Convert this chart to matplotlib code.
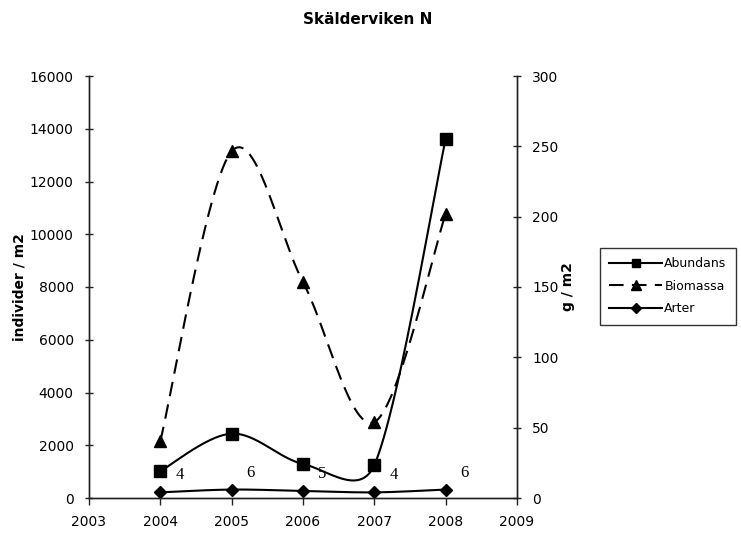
import numpy as np
import matplotlib
matplotlib.use("Agg")
import matplotlib.pyplot as plt
from matplotlib.lines import Line2D

years = [2004, 2005, 2006, 2007, 2008]
abundans = [1020, 2440, 1290, 1250, 13610]      # individer / m2 (left axis)
biomassa = [40.5, 246.5, 153.5, 54, 202]       # g / m2 (right axis)
arter = [4, 6, 5, 4, 6]                         # number of species (right axis)
arter_labels = ["4", "6", "5", "4", "6"]

title = "Skälderviken N"
left_label = "individer / m2"
right_label = "g / m2"
left_ticks = [0, 2000, 4000, 6000, 8000, 10000, 12000, 14000, 16000]
right_ticks = [0, 50, 100, 150, 200, 250, 300]
x_ticks = [2003, 2004, 2005, 2006, 2007, 2008, 2009]

W, H = 741, 534
fig = plt.figure(figsize=(W / 100, H / 100), dpi=100)
L, R, B, T = 89, 517, 498, 76
ax = fig.add_axes([L / W, 1 - B / H, (R - L) / W, (B - T) / H])
ax2 = ax.twinx()

ax.set_xlim(2003, 2009)
ax.set_ylim(0, 16000)
ax2.set_ylim(0, 300)
ax.set_xticks(x_ticks)
ax.set_yticks(left_ticks)
ax2.set_yticks(right_ticks)

for a in (ax, ax2):
    a.spines["top"].set_visible(False)
    for s in a.spines.values():
        s.set_color("#222222")
        s.set_linewidth(1.0)
    a.patch.set_visible(False)

ax.tick_params(axis="y", direction="inout", length=6, width=1, labelsize=10, pad=8, colors="#222222", labelcolor="black")
ax2.tick_params(axis="y", direction="inout", length=6, width=1, labelsize=10, pad=8, colors="#222222", labelcolor="black")
ax.tick_params(axis="x", direction="out", length=5, width=1, labelsize=10, pad=7, colors="#222222", labelcolor="black")

ax.set_ylabel(left_label, fontsize=10, fontweight="bold", labelpad=2)
ax2.set_ylabel(right_label, fontsize=10, fontweight="bold", labelpad=2)
fig.text(368 / W, 1 - 20 / H, title, ha="center", va="center", fontsize=11, fontweight="bold")


def excel_smooth(axis, xs, ys, n=60):
    """Excel-style smoothed line (Bezier with control points limited to half segment length),
    computed in display coordinates, returned in data coordinates."""
    P = axis.transData.transform(np.column_stack([xs, ys]))
    out = []
    m = len(P)
    for i in range(m - 1):
        p0 = P[i - 1] if i > 0 else P[i]
        p1 = P[i]
        p2 = P[i + 1]
        p3 = P[i + 2] if i + 2 < m else P[i + 1]
        d12 = np.linalg.norm(p2 - p1)
        v1 = (p2 - p0) / 6.0
        v2 = (p3 - p1) / 6.0
        if np.linalg.norm(v1) > d12 / 2:
            v1 = v1 / np.linalg.norm(v1) * d12 / 2
        if np.linalg.norm(v2) > d12 / 2:
            v2 = v2 / np.linalg.norm(v2) * d12 / 2
        c1 = p1 + v1
        c2 = p2 - v2
        t = np.linspace(0, 1, n)[:, None]
        seg = ((1 - t) ** 3) * p1 + 3 * ((1 - t) ** 2) * t * c1 + 3 * (1 - t) * t ** 2 * c2 + t ** 3 * p2
        if i > 0:
            seg = seg[1:]
        out.append(seg)
    pts = np.vstack(out)
    d = axis.transData.inverted().transform(pts)
    return d[:, 0], d[:, 1]


lw = 1.5
cx, cy = excel_smooth(ax, years, abundans)
ax.plot(cx, cy, color="black", lw=lw)
ax.plot(years, abundans, ls="none", marker="s", ms=8, color="black")

bx, by = excel_smooth(ax2, years, biomassa)
ax2.plot(bx, by, color="black", lw=lw, dashes=(7, 4))
ax2.plot(years, biomassa, ls="none", marker="^", ms=9, color="black")

axx, axy = excel_smooth(ax2, years, arter)
ax2.plot(axx, axy, color="black", lw=lw)
ax2.plot(years, arter, ls="none", marker="D", ms=6, color="black")

for x, y, lab in zip(years, arter, arter_labels):
    ax2.annotate(lab, (x, y), xytext=(19, 17), textcoords="offset pixels",
                 ha="center", va="center", fontsize=12, family="Liberation Serif")

handles = [
    Line2D([], [], color="black", lw=lw, marker="s", ms=6),
    Line2D([], [], color="black", lw=lw, marker="^", ms=7, dashes=(7, 4)),
    Line2D([], [], color="black", lw=lw, marker="D", ms=5),
]
leg = fig.legend(handles, ["Abundans", "Biomassa", "Arter"], loc="upper left",
                 bbox_to_anchor=(600 / W, 1 - 248 / H), fontsize=9, frameon=True,
                 fancybox=False, edgecolor="black", handlelength=4.2, handletextpad=0.2,
                 borderaxespad=0, borderpad=0.75, labelspacing=0.75)
leg.get_frame().set_linewidth(1.0)

fig.savefig("out.png", dpi=100)
